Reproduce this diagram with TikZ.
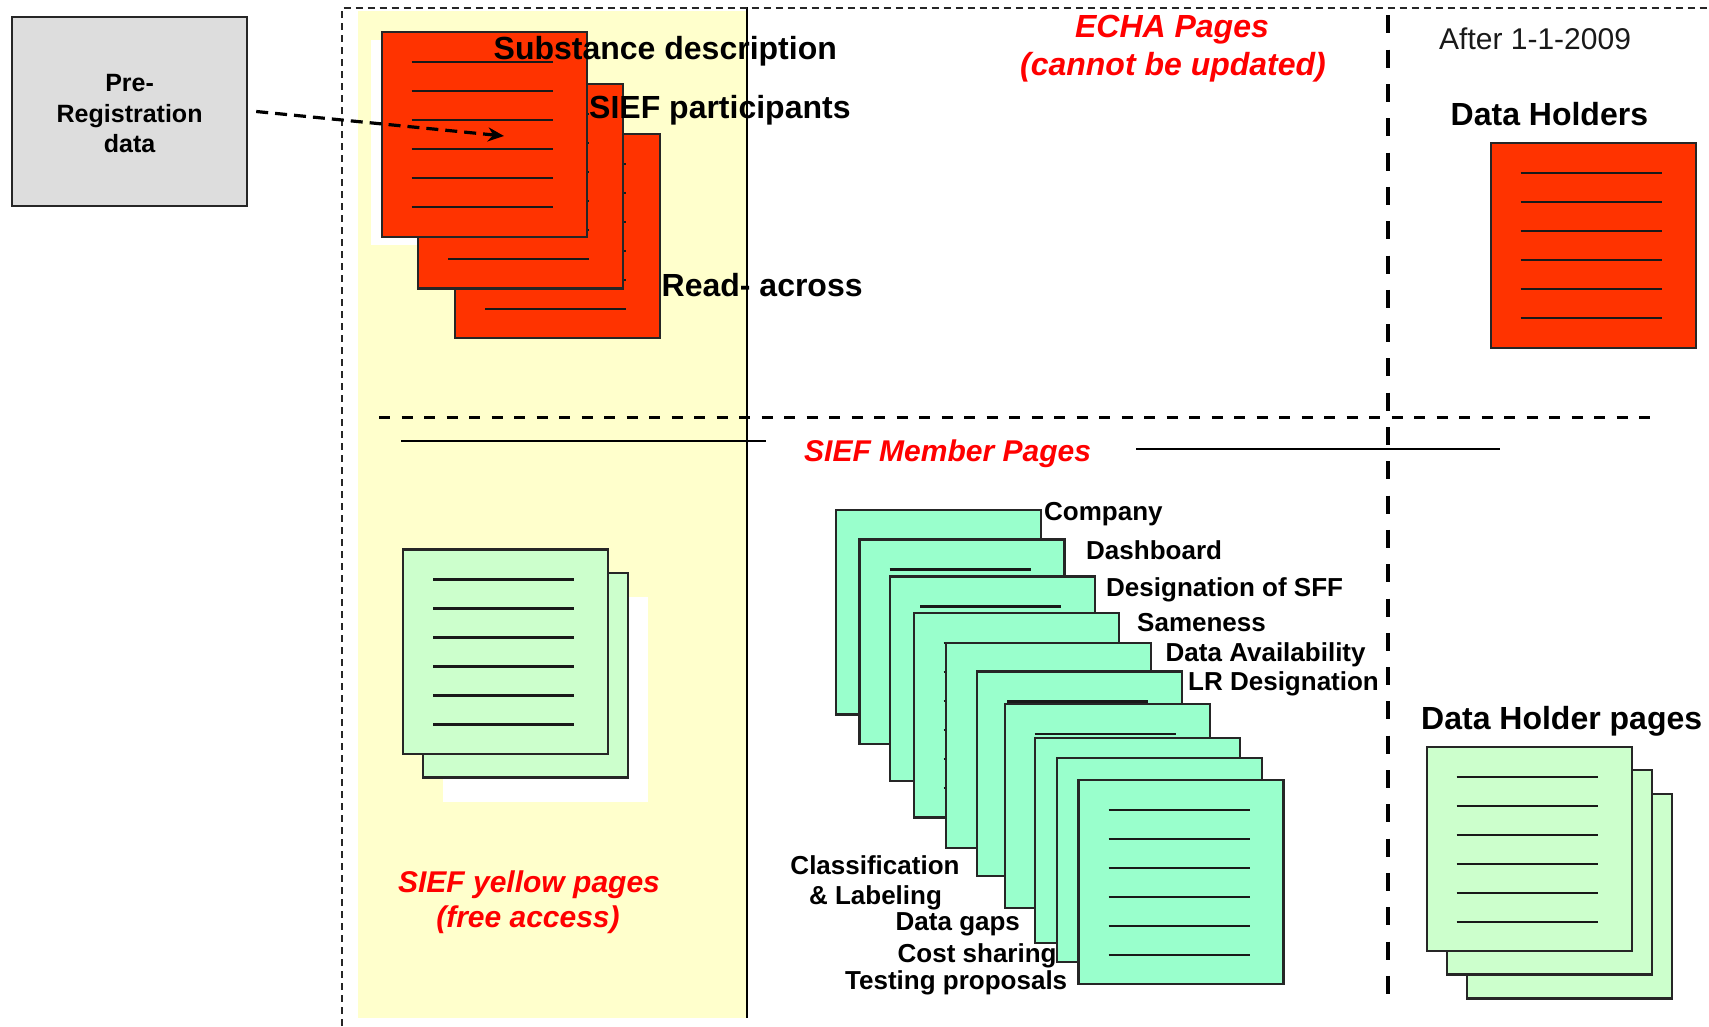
\documentclass[tikz,border=0pt]{standalone}
\usepackage{fontspec}
\setmainfont{Liberation Sans}
\usetikzlibrary{arrows.meta,calc}
\definecolor{pagered}{HTML}{FF3300}
\definecolor{stackgreen}{HTML}{99FFCC}
\definecolor{lightgreen}{HTML}{CCFFCC}
\definecolor{bgyellow}{HTML}{FFFFCC}
\definecolor{boxgray}{HTML}{DDDDDD}
\definecolor{labelred}{HTML}{FF0000}
\tikzset{
  pagebox/.style={draw=black!85, line width=2.2pt, anchor=north west, inner sep=0pt, outer sep=0pt,
    minimum width=205pt, minimum height=204.5pt},
  pageline/.style={draw=black!90, line width=2.2pt},
  prebox/.style={draw=black!85, line width=2.2pt, fill=boxgray, minimum width=235pt, minimum height=188.5pt,
    align=center, inner sep=0pt, font=\fontsize{25}{30.5}\selectfont\bfseries},
  bigtxt/.style={font=\fontsize{32}{38}\selectfont\bfseries, inner sep=0pt, anchor=base west},
  redtxt/.style={font=\fontsize{32}{38}\selectfont\bfseries\itshape, text=labelred, inner sep=0pt, anchor=base},
  lbl/.style={font=\fontsize{26}{31}\selectfont\bfseries, inner sep=0pt, anchor=base west},
  dasharrow/.style={line width=3.2pt, dash pattern=on 12pt off 7pt, -{Stealth[length=16pt,width=14pt]}},
  border/.style={line width=2pt, draw=black!85, dash pattern=on 7pt off 5pt},
}
\newcommand\docpage[4]{%
  \node[pagebox, fill=#4] (#1) at (#2,#3) {};
  \foreach \k in {0,...,5}{\draw[pageline] ($(#1.north west)+(30,{30+29*\k})$) -- ++(141,0);}
}
\begin{document}
\begin{tikzpicture}[x=1pt,y=-1pt]
\useasboundingbox (0,0) rectangle (1709,1026);
% background areas
\fill[bgyellow] (358,11) rectangle (747,1018);
\fill[white] (370.7,40) rectangle ++(205,204.5);
\fill[white] (443,597) rectangle ++(205,204.5);
\draw[line width=1.6pt] (747,7) -- (747,1018);
\draw[border] (342,1026) -- (342,7.5) -- (1709,7.5);
% separators
\draw[line width=2.2pt] (401,440.7) -- (766,440.7);
\draw[line width=2.2pt] (1136,449.3) -- (1500,449.3);
\draw[line width=3.5pt, dash pattern=on 11pt off 11.5pt] (379,417.5) -- (1651,417.5);
\draw[line width=4.5pt, dash pattern=on 18pt off 16.3pt, dash phase=26.9pt] (1388,8) -- (1388,1007);
% red stack
\docpage{r3}{455.3}{133.7}{pagered}
\docpage{r2}{418.3}{84}{pagered}
\docpage{r1}{381.7}{32.3}{pagered}
% data holders red page
\docpage{dhred}{1490.7}{143.3}{pagered}
% yellow pages
\docpage{y2}{423}{573}{lightgreen}
\docpage{y1}{403.3}{549.4}{lightgreen}
% data holder pages
\docpage{h3}{1467.3}{794}{lightgreen}
\docpage{h2}{1447.3}{770}{lightgreen}
\docpage{h1}{1426.7}{746.7}{lightgreen}
% member stack
\docpage{m1}{835.7}{510}{stackgreen}
\docpage{m2}{859.5}{539.4}{stackgreen}
\docpage{m3}{890}{576.5}{stackgreen}
\docpage{m4}{913.7}{613}{stackgreen}
\docpage{m5}{946}{643.3}{stackgreen}
\docpage{m6}{977}{671.5}{stackgreen}
\docpage{m7}{1004.7}{703.8}{stackgreen}
\docpage{m8}{1035}{738.2}{stackgreen}
\docpage{m9}{1056.7}{757.6}{stackgreen}
\docpage{m10}{1078.5}{779.8}{stackgreen}
% pre-registration box and arrow
\node[prebox] (pre) at (129.6,111.5) {};
\node[font=\fontsize{25}{30.5}\selectfont\bfseries, align=center, inner sep=0pt] (pretext) at (129.6,114) {Pre-\\Registration\\data};
\coordinate (arrowtip) at (504,136);
\draw[dasharrow] ([xshift=8pt]pre.east) -- (arrowtip);
% texts
\node[bigtxt] (subst) at (493.5,59.3) {Substance description};
\node[bigtxt] (siefp) at (589,118.3) {SIEF participants};
\node[bigtxt] (read) at (661.5,296.7) {Read- across};
\node[redtxt] (echa1) at (1172,37.5) {ECHA Pages};
\node[redtxt] (echa2) at (1173,75) {(cannot be updated)};
\node[font=\fontsize{30}{36}\selectfont, text=black!90, inner sep=0pt, anchor=base west] (after) at (1439,49.3) {After 1-1-2009};
\node[bigtxt] (dh) at (1450.5,125) {Data Holders};
\node[redtxt, font=\fontsize{30}{36}\selectfont\bfseries\itshape, anchor=base west] (member) at (804,461) {SIEF Member Pages};
\node[redtxt, font=\fontsize{30}{36}\selectfont\bfseries\itshape] (yp1) at (529,892) {SIEF yellow pages};
\node[redtxt, font=\fontsize{30}{36}\selectfont\bfseries\itshape] (yp2) at (528,927) {(free access)};
\node[bigtxt] (dhp) at (1421,729.3) {Data Holder pages};
% member labels
\node[lbl] (company) at (1044,520.5) {Company};
\node[lbl] (dash) at (1086,559.7) {Dashboard};
\node[lbl] (desig) at (1106,596.8) {Designation of SFF};
\node[lbl] (same) at (1137,631.2) {Sameness};
\node[lbl] (avail) at (1165.5,661) {Data Availability};
\node[lbl] (lr) at (1188,690.6) {LR Designation};
\node[lbl, anchor=base] (class1) at (875,874.5) {Classification};
\node[lbl, anchor=base] (class2) at (875.5,904.3) {\& Labeling};
\node[lbl] (gaps) at (895.5,930) {Data gaps};
\node[lbl] (cost) at (897.5,962.8) {Cost sharing};
\node[lbl] (testing) at (845,989) {Testing proposals};
\end{tikzpicture}
\end{document}
